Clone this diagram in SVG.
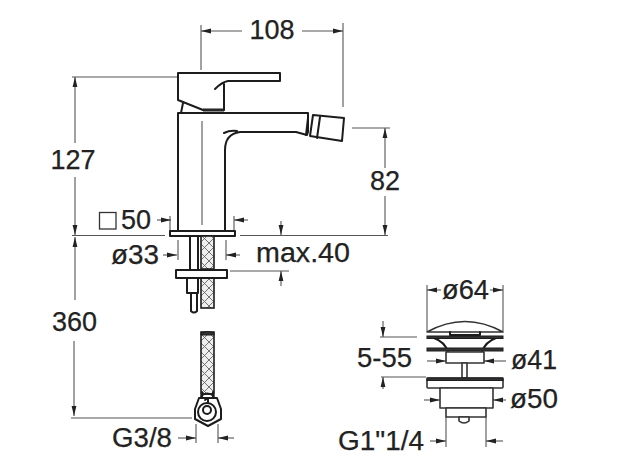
<svg xmlns="http://www.w3.org/2000/svg" width="633" height="476" viewBox="0 0 633 476">
<style>
.t{font-family:"Liberation Sans",Arial,sans-serif;font-size:27px;fill:#222;stroke:#222;stroke-width:0.25}
.o{fill:none;stroke:#1c1c1c;stroke-width:2;stroke-linejoin:round;stroke-linecap:round}
.f{fill:#fff;stroke:#1c1c1c;stroke-width:2;stroke-linejoin:round}
.g{fill:#fff;stroke:#333;stroke-width:1.6;stroke-linejoin:round}
.k{fill:#333;stroke:#1c1c1c;stroke-width:1}
.d{fill:none;stroke:#555;stroke-width:1.1}
.a{fill:none;stroke:#555;stroke-width:1.1;marker-end:url(#ar)}
.h{fill:url(#mesh);stroke:#1c1c1c;stroke-width:1.6}
</style>
<defs>
<marker id="ar" viewBox="0 0 10 6" refX="10" refY="3" markerWidth="10" markerHeight="6" markerUnits="userSpaceOnUse" orient="auto"><path d="M0 0.6L10 3L0 5.4Z" fill="#222"/></marker>
<pattern id="mesh" width="9" height="9" patternUnits="userSpaceOnUse" x="2" y="0"><rect width="9" height="9" fill="#eee"/><path d="M0 0L9 9M9 0L0 9" stroke="#666" stroke-width="0.9"/></pattern>
</defs>
<rect width="633" height="476" fill="#fff"/>
<g id="connectors">
<path class="d" d="M201 25V70M343 23V107M72 77H177M352 128H390M72 235.500H165M240 235.500H388M71 418H192M202 121V225"/>
<path class="a" d="M242 31H201"/><path class="a" d="M302 31H343"/>
<path class="a" d="M75 143V77"/><path class="a" d="M75 177V235"/>
<path class="a" d="M75 300V237"/><path class="a" d="M74 341V416"/>
<path class="a" d="M385 168V128"/><path class="a" d="M385 196V235"/>
<path class="d" d="M170 216V231M234 216V231M178 240V260M226 240V260M230 271H289M196 424V443M218 424V443"/>
<path class="a" d="M157 220H171"/><path class="a" d="M248 220H234"/>
<path class="a" d="M163 255H177"/><path class="a" d="M240 255H226"/>
<path class="a" d="M281 221V235"/><path class="a" d="M281 286V271"/>
<path class="a" d="M178 438H196"/><path class="a" d="M234 438H218"/>
<path class="d" d="M427 285V331M503 285V331M380 337H417M381 377H426M446 417V447M486 417V447"/>
<path class="a" d="M441 290H427"/><path class="a" d="M490 290H503"/>
<path class="a" d="M383 321V337"/><path class="a" d="M383 389V377"/>
<path class="a" d="M427 361H446"/><path class="a" d="M506 361H484"/>
<path class="a" d="M424 400H440"/><path class="a" d="M506 400H493"/>
<path class="a" d="M430 441H446"/><path class="a" d="M503 441H486"/>
</g>
<g id="lever">
<path class="o" d="M178 73H280V81H228Q222 82 215 89M224 84V110M178 73V100L203 110H224M183 103L181 113"/>
<path class="k" d="M203 109H224V111H203Z"/>
</g>
<g id="spout">
<path class="o" d="M178 230V113H308V132L307 135L296 132H240Q225 134 225 150V230"/>
<path class="o" d="M224 133Q230 130 237 131"/>
<path class="f" d="M313 115L344 118L342 141L310 136Z"/>
<path class="o" d="M320 117L317 138M308 118L306 135"/>
</g>
<g id="base">
<rect class="f" x="170" y="231" width="65" height="5"/>
<rect class="f" x="190" y="236" width="8" height="34"/>
<rect class="h" x="201" y="236" width="13" height="33"/>
<rect class="h" x="201" y="278" width="13" height="30"/>
<rect class="f" x="187" y="278" width="11" height="15"/>
<path class="f" d="M191 293H197V311Q194 314 191 311Z"/>
<rect class="f" x="176" y="270" width="51" height="8"/>
</g>
<g id="hose">
<rect class="h" x="201" y="332" width="13" height="62"/>
<path class="k" d="M201 333Q207 330 214 333V335H201Z"/>
</g>
<g id="nut">
<path class="f" d="M199 398H217L221 409V419L208 426L195 419V409Z"/>
<path class="o" d="M202 392V398M213 392V398M201 396Q207 391 214 396"/>
<circle class="o" cx="207" cy="412" r="9"/><circle class="o" cx="207" cy="410" r="4"/>
<path class="o" d="M205 400L208 398V403"/>
</g>
<g id="drain">
<path class="g" d="M427 332Q465 311 503 332Z"/>
<path class="o" d="M450 332V335H480V332"/>
<path class="o" d="M434 338Q445 342 448 352M496 338Q485 342 482 352"/>
<rect class="k" x="427" y="336" width="76" height="2.500"/>
<rect class="k" x="427" y="348" width="76" height="3"/>
<path class="g" d="M446 352H484V363H446Z"/>
<rect class="g" x="462" y="363" width="5" height="15"/>
<rect class="g" x="427" y="378" width="76" height="10" rx="1"/>
<rect class="k" x="427" y="378" width="76" height="2.500"/>
<rect class="g" x="440" y="388" width="53" height="20"/>
<rect class="g" x="446" y="408" width="40" height="9"/>
<path class="g" d="M459 417H469V421Q464 425 459 421Z"/>
</g>
<g id="labels">
<text class="t" x="272" y="39" text-anchor="middle">108</text>
<text class="t" x="73" y="169" text-anchor="middle">127</text>
<text class="t" x="385" y="190" text-anchor="middle">82</text>
<rect x="99.500" y="212.500" width="16.500" height="16.500" fill="none" stroke="#333" stroke-width="1.300"/>
<text class="t" x="121" y="229">50</text>
<text class="t" x="111" y="264" textLength="48" lengthAdjust="spacingAndGlyphs">ø33</text>
<text class="t" x="256" y="262" textLength="94" lengthAdjust="spacingAndGlyphs">max.40</text>
<text class="t" x="52" y="331">360</text>
<text class="t" x="112" y="447" textLength="60" lengthAdjust="spacingAndGlyphs">G3/8</text>
<text class="t" x="442" y="299" textLength="47" lengthAdjust="spacingAndGlyphs">ø64</text>
<text class="t" x="357" y="367" textLength="55" lengthAdjust="spacingAndGlyphs">5-55</text>
<text class="t" x="511" y="369" textLength="46" lengthAdjust="spacingAndGlyphs">ø41</text>
<text class="t" x="510" y="408" textLength="48" lengthAdjust="spacingAndGlyphs">ø50</text>
<text class="t" x="338" y="450" textLength="86" lengthAdjust="spacingAndGlyphs">G1"1/4</text>
</g>
</svg>
